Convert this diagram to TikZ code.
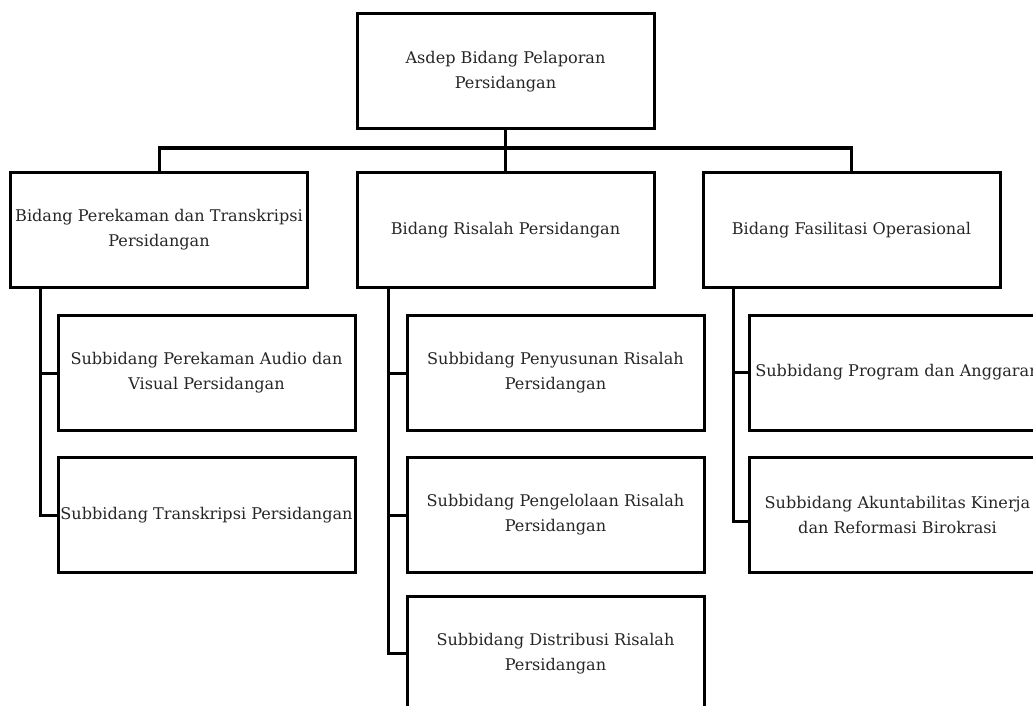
\documentclass[tikz,border=0pt]{standalone}
\usepackage{fontspec}
\setmainfont{DejaVu Serif}
\begin{document}
\begin{tikzpicture}[x=1pt,y=-1pt,
  box/.style={draw=black,line width=3pt,minimum width=297pt,minimum height=115pt,inner sep=0pt,align=center,font=\fontsize{16.1}{25}\selectfont,text=black!85},
  conn/.style={draw=black,line width=3pt,line cap=rect,line join=miter}]
\useasboundingbox (0,0) rectangle (1033,706);
\clip (0,0) rectangle (1033,706);
\fill[white] (0,0) rectangle (1033,706);
\node[box] (top) at (505.5,71.5) {Asdep Bidang Pelaporan\\Persidangan};
\node[box] (b1) at (159,230) {Bidang Perekaman dan Transkripsi\\Persidangan};
\node[box] (b2) at (505.5,230) {Bidang Risalah Persidangan};
\node[box] (b3) at (851.5,230) {Bidang Fasilitasi Operasional};
\node[box] (s11) at (206.5,373) {Subbidang Perekaman Audio dan\\Visual Persidangan};
\node[box] (s12) at (206.5,515) {Subbidang Transkripsi Persidangan};
\node[box] (s21) at (555.5,373) {Subbidang Penyusunan Risalah\\Persidangan};
\node[box] (s22) at (555.5,515) {Subbidang Pengelolaan Risalah\\Persidangan};
\node[box] (s23) at (555.5,653.5) {Subbidang Distribusi Risalah\\Persidangan};
\node[box] (s31) at (897.5,372.5) {Subbidang Program dan Anggaran};
\node[box] (s32) at (897.5,515) {Subbidang Akuntabilitas Kinerja\\dan Reformasi Birokrasi};
\coordinate (bus) at (0,148);
\coordinate (x1) at (40,0);
\coordinate (x2) at (388,0);
\coordinate (x3) at (733,0);
\draw[conn] (top.south) -- (top.south |- bus);
\draw[conn] (b1.north) |- (b3.north |- bus) -- (b3.north);
\draw[conn] (b2.north) -- (b2.north |- bus);
\draw[conn] (x1 |- b1.south) |- (s12.west);
\draw[conn] (x1 |- s11.west) -- (s11.west);
\draw[conn] (x2 |- b2.south) |- (s23.west);
\draw[conn] (x2 |- s21.west) -- (s21.west);
\draw[conn] (x2 |- s22.west) -- (s22.west);
\draw[conn] (x3 |- b3.south) |- ([yshift=-6pt]s32.west);
\draw[conn] (x3 |- s31.west) -- (s31.west);
\end{tikzpicture}
\end{document}
